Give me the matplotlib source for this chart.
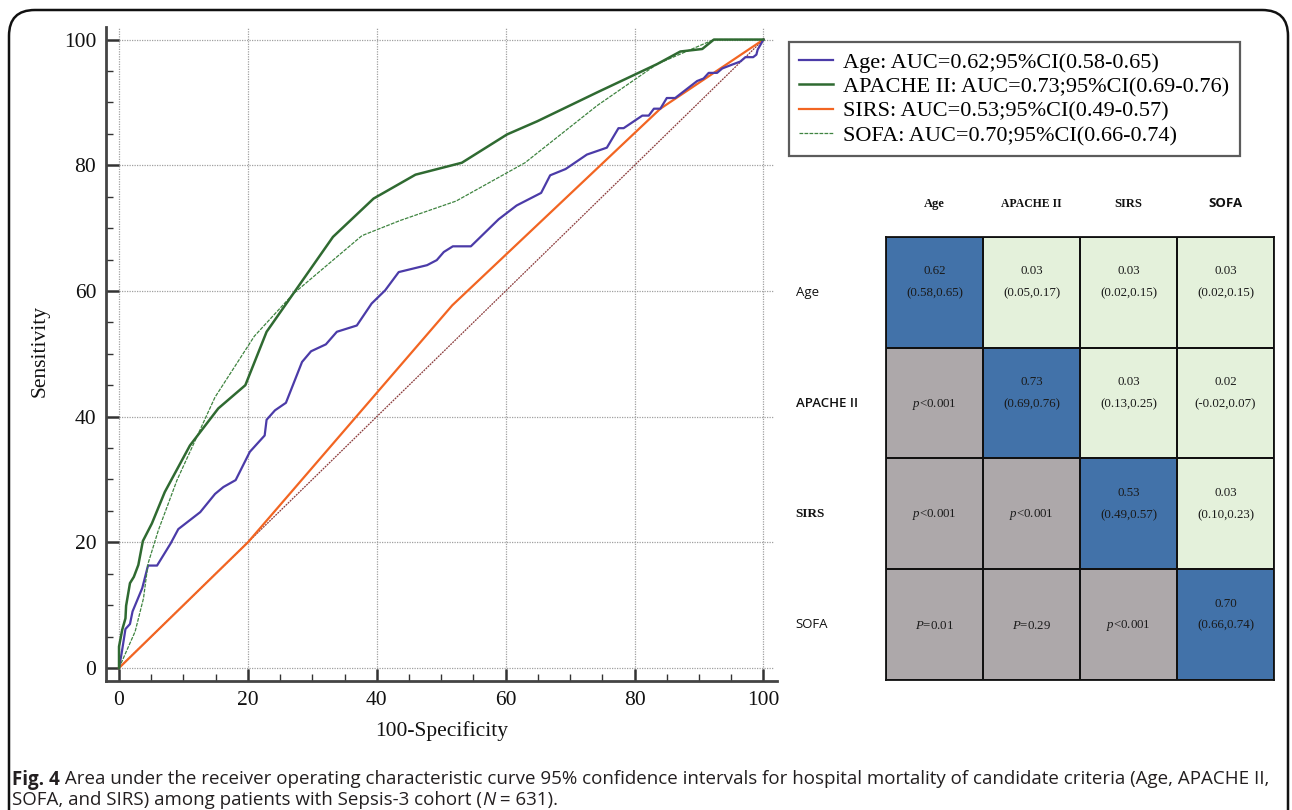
import matplotlib
matplotlib.use("Agg")
import matplotlib.pyplot as plt
import numpy as np
from matplotlib.patches import FancyBboxPatch
from matplotlib.colors import ListedColormap

plt.rcParams["mathtext.fontset"] = "custom"
plt.rcParams["mathtext.it"] = "Liberation Serif:italic"
plt.rcParams["mathtext.rm"] = "Liberation Serif"

# ---------------- data ----------------
age_x = [0, 0.4, 1.0, 1.7, 2.1, 3.6, 4.5, 5.9, 8.0, 9.2, 12.6, 14.9, 16.2, 18.1, 20.3, 22.6, 22.9, 24.2,
         25.9, 28.4, 29.8, 32.1, 33.8, 36.9, 39.2, 41.3, 43.4, 47.8, 49.3, 50.4, 51.8, 54.6, 58.9, 61.7,
         65.5, 66.9, 69.3, 72.6, 75.7, 77.5, 78.3, 81.2, 82.2, 83.0, 84.0, 85.0, 86.3, 89.7, 90.7, 91.5,
         92.8, 93.6, 95.1, 96.4, 97.2, 98.4, 98.9, 99.1, 100]
age_y = [0, 2.3, 6.2, 7.0, 9.0, 12.7, 16.3, 16.3, 19.8, 22.1, 24.8, 27.7, 28.8, 29.9, 34.4, 37.0, 39.5, 41.0,
         42.2, 48.7, 50.4, 51.5, 53.5, 54.5, 58.0, 60.1, 63.0, 64.1, 64.9, 66.2, 67.1, 67.1, 71.4, 73.6,
         75.6, 78.4, 79.4, 81.7, 82.8, 85.9, 85.9, 87.9, 87.9, 89.0, 89.0, 90.7, 90.7, 93.4, 93.8, 94.7,
         94.7, 95.4, 96.0, 96.5, 97.2, 97.2, 97.6, 98.4, 100]

apache_x = [0, 0, 0.5, 1.0, 1.1, 1.7, 2.3, 3.0, 3.7, 5.1, 7.1, 11.0, 15.4, 19.6, 22.9, 33.2, 39.5, 46.0,
            53.2, 60.2, 64.9, 74.2, 83.5, 87.1, 90.5, 92.3, 100]
apache_y = [0, 3.4, 6.1, 7.9, 9.9, 13.5, 14.5, 16.4, 20.2, 23.0, 28.0, 35.4, 41.3, 45.0, 53.5, 68.6, 74.7,
            78.5, 80.4, 84.9, 87.0, 91.6, 96.1, 98.1, 98.5, 100, 100]

sirs_x = [0, 20, 51.7, 84, 100]
sirs_y = [0, 20, 57.7, 89, 100]

sofa_x = [0, 2.5, 3.8, 4.5, 6.1, 9.0, 14.9, 21.0, 27.1, 37.7, 43.6, 52.3, 63.0, 74.2, 83.5, 92.3, 100]
sofa_y = [0, 5.8, 11.1, 16.6, 21.9, 29.9, 43.1, 52.8, 59.6, 68.8, 71.2, 74.3, 80.4, 89.5, 96.1, 100, 100]

ref_x = [0, 100]
ref_y = [0, 100]

legend_labels = ["Age: AUC=0.62;95%CI(0.58-0.65)",
                 "APACHE II: AUC=0.73;95%CI(0.69-0.76)",
                 "SIRS: AUC=0.53;95%CI(0.49-0.57)",
                 "SOFA: AUC=0.70;95%CI(0.66-0.74)"]

tick_vals = [0, 20, 40, 60, 80, 100]

criteria = ["Age", "APACHE II", "SIRS", "SOFA"]
# cell kind: 0 = p-value (lower), 1 = AUC (diagonal), 2 = difference (upper)
cell_kind = [[1, 2, 2, 2],
             [0, 1, 2, 2],
             [0, 0, 1, 2],
             [0, 0, 0, 1]]
cell_top = [["0.62", "0.03", "0.03", "0.03"],
            ["", "0.73", "0.03", "0.02"],
            ["", "", "0.53", "0.03"],
            ["", "", "", "0.70"]]
cell_ci = [["(0.58,0.65)", "(0.05,0.17)", "(0.02,0.15)", "(0.02,0.15)"],
           ["", "(0.69,0.76)", "(0.13,0.25)", "(-0.02,0.07)"],
           ["", "", "(0.49,0.57)", "(0.10,0.23)"],
           ["", "", "", "(0.66,0.74)"]]
cell_p = [["", "", "", ""],
          [("p", "<0.001"), "", "", ""],
          [("p", "<0.001"), ("p", "<0.001"), "", ""],
          [("P", "=0.01"), ("P", "=0.29"), ("p", "<0.001"), ""]]

caption_bold = "Fig. 4"
caption_line1 = (" Area under the receiver operating characteristic curve 95% confidence intervals for "
                 "hospital mortality of candidate criteria (Age, APACHE II,")
caption_line2 = "SOFA, and SIRS) among patients with Sepsis-3 cohort ("
caption_line2b = "N"
caption_line2c = " = 631)."

# ---------------- figure ----------------
W, H = 1292, 810
fig = plt.figure(figsize=(W / 100, H / 100), dpi=100)
fig.patch.set_facecolor("white")

SERIF = ["Liberation Serif", "DejaVu Serif"]
SANS = ["Open Sans", "DejaVu Sans"]
CAP = ["Open Sans", "DejaVu Sans"]

# outer rounded frame
frame = FancyBboxPatch((9 / W, -0.05), (1288 - 9) / W, (810 - 10) / H + 0.05,
                       boxstyle="round,pad=0,rounding_size=0.02",
                       transform=fig.transFigure, fill=False, edgecolor="#111111",
                       linewidth=1.8, mutation_aspect=W / H)
fig.patches.append(frame)

# ---------------- ROC axes ----------------
ax = fig.add_axes([106 / W, 1 - 681 / H, (777 - 106) / W, (681 - 27) / H])
ax.set_xlim(-2.02, 102.1)
ax.set_ylim(-2.07, 102.0)

for v in tick_vals:
    ax.axhline(v, xmin=(0 + 2.02) / 104.12, xmax=(101.6 + 2.02) / 104.12, color="#a0a0a0",
               lw=0.9, ls=(0, (1, 1)), zorder=0)
    ax.axvline(v, ymin=(0 + 2.07) / 104.07 - 0.006, ymax=1.0, color="#a0a0a0",
               lw=0.9, ls=(0, (1, 1)), zorder=0)

ax.plot(ref_x, ref_y, color="#8a3a3a", lw=0.9, ls=(0, (1.5, 0.8)), zorder=2)
l_age, = ax.plot(age_x, age_y, color="#4b3ba8", lw=1.6, zorder=4)
l_apa, = ax.plot(apache_x, apache_y, color="#2f6a31", lw=1.8, zorder=5)
l_sirs, = ax.plot(sirs_x, sirs_y, color="#f26522", lw=1.6, zorder=3)
l_sofa, = ax.plot(sofa_x, sofa_y, color="#3f8440", lw=0.9, ls=(0, (3, 1)), zorder=4)

for s in ["top", "right"]:
    ax.spines[s].set_visible(False)
for s in ["left", "bottom"]:
    ax.spines[s].set_color("#444444")
    ax.spines[s].set_linewidth(2.0)

ax.set_xticks(tick_vals)
ax.set_yticks(tick_vals)
ax.set_xticks(np.arange(5, 100, 5), minor=True)
ax.set_yticks(np.arange(5, 100, 5), minor=True)
ax.tick_params(which="major", direction="in", length=9, width=1.8, color="#333333",
               labelsize=15.5, pad=7)
ax.tick_params(which="minor", direction="in", length=5, width=1.0, color="#333333")
for lab in ax.get_xticklabels() + ax.get_yticklabels():
    lab.set_family(SERIF)
    lab.set_color("#111111")

ax.set_xlabel("100-Specificity", family=SERIF, fontsize=15.5, color="#111111")
ax.set_ylabel("Sensitivity", family=SERIF, fontsize=15.5, color="#111111")
ax.xaxis.set_label_coords(0.5, -0.077)
ax.xaxis.label.set_va("center")
ax.yaxis.set_label_coords(-0.098, 0.504)
ax.yaxis.label.set_va("center")

leg = fig.legend([l_age, l_apa, l_sirs, l_sofa], legend_labels,
                 loc="upper left", bbox_to_anchor=(789 / W, 1 - 42 / H),
                 prop={"family": SERIF, "size": 16}, frameon=True, fancybox=False,
                 borderaxespad=0, borderpad=0.45, handlelength=1.55, handletextpad=0.45,
                 labelspacing=0.18)
leg.get_frame().set_edgecolor("#333333")
leg.get_frame().set_linewidth(1.6)

# ---------------- comparison table ----------------
tx = fig.add_axes([886 / W, 1 - 680 / H, (1274 - 886) / W, (680 - 237) / H])
cmap = ListedColormap(["#ada8aa", "#4272a9", "#e4f1db"])
kind = np.array(cell_kind)
tx.pcolormesh(np.arange(5), np.arange(5), kind, cmap=cmap, vmin=-0.5, vmax=2.5,
              edgecolors="#111111", linewidth=1.3)
tx.set_xlim(0, 4)
tx.set_ylim(4, 0)
tx.set_xticks([])
tx.set_yticks([])
for s in tx.spines.values():
    s.set_linewidth(1.3)
    s.set_color("#111111")

header_styles = [dict(family=SERIF, weight="bold", fontsize=9), dict(family=SERIF, weight="bold", fontsize=8.5),
                 dict(family=SERIF, weight="bold", fontsize=9), dict(family=SANS, weight="bold", fontsize=9.5)]
row_styles = [dict(family=SANS), dict(family=SANS, weight="semibold"),
              dict(family=SERIF, weight="bold"), dict(family=SANS)]
for j, name in enumerate(criteria):
    tx.text(j + 0.5, -0.30, name, ha="center", va="center",
            color="#111111", clip_on=False, **header_styles[j])
for i, name in enumerate(criteria):
    tx.text(-0.93, i + 0.5, name, ha="left", va="center", fontsize=9.5,
            color="#111111", clip_on=False, **row_styles[i])

CELL_FS = 9.3
for i in range(4):
    for j in range(4):
        if cell_kind[i][j] == 0:
            letter, rest = cell_p[i][j]
            tx.text(j + 0.5, i + 0.51, r"$\mathit{" + letter + "}$" + rest, ha="center",
                    va="center", fontsize=CELL_FS, family=SERIF, color="#1a1a1a")
        else:
            tx.text(j + 0.5, i + 0.31, cell_top[i][j], ha="center", va="center",
                    fontsize=CELL_FS, family=SERIF, color="#1a1a1a")
            tx.text(j + 0.5, i + 0.51, cell_ci[i][j], ha="center", va="center",
                    fontsize=CELL_FS, family=SERIF, color="#1a1a1a")

# ---------------- caption ----------------
renderer = fig.canvas.get_renderer()
y1 = 1 - 777 / H
y2 = 1 - 798 / H
base = 11.0
# measure at base size, then scale so line 1 spans the reference width
tb = fig.text(0, 0, caption_bold, family=CAP, weight="bold", fontsize=base)
tr = fig.text(0, 0, caption_line1, family=CAP, fontsize=base)
wtot = tb.get_window_extent(renderer).width + tr.get_window_extent(renderer).width
tb.remove()
tr.remove()
cap_size = min(base * (1280 - 12) / wtot, 13.5)

t_b = fig.text(12 / W, y1, caption_bold, family=CAP, weight="bold", fontsize=cap_size,
               color="#231f20", va="center_baseline", ha="left")
bb = t_b.get_window_extent(renderer)
fig.text(bb.x1 / W, y1, caption_line1, family=CAP, fontsize=cap_size, color="#231f20",
         va="center_baseline", ha="left")
t2 = fig.text(12 / W, y2, caption_line2, family=CAP, fontsize=cap_size, color="#231f20",
              va="center_baseline", ha="left")
bb2 = t2.get_window_extent(renderer)
t3 = fig.text(bb2.x1 / W, y2, caption_line2b, family=CAP, style="italic", fontsize=cap_size,
              color="#231f20", va="center_baseline", ha="left")
bb3 = t3.get_window_extent(renderer)
fig.text(bb3.x1 / W, y2, caption_line2c, family=CAP, fontsize=cap_size, color="#231f20",
         va="center_baseline", ha="left")

fig.savefig("out.png", dpi=100)
